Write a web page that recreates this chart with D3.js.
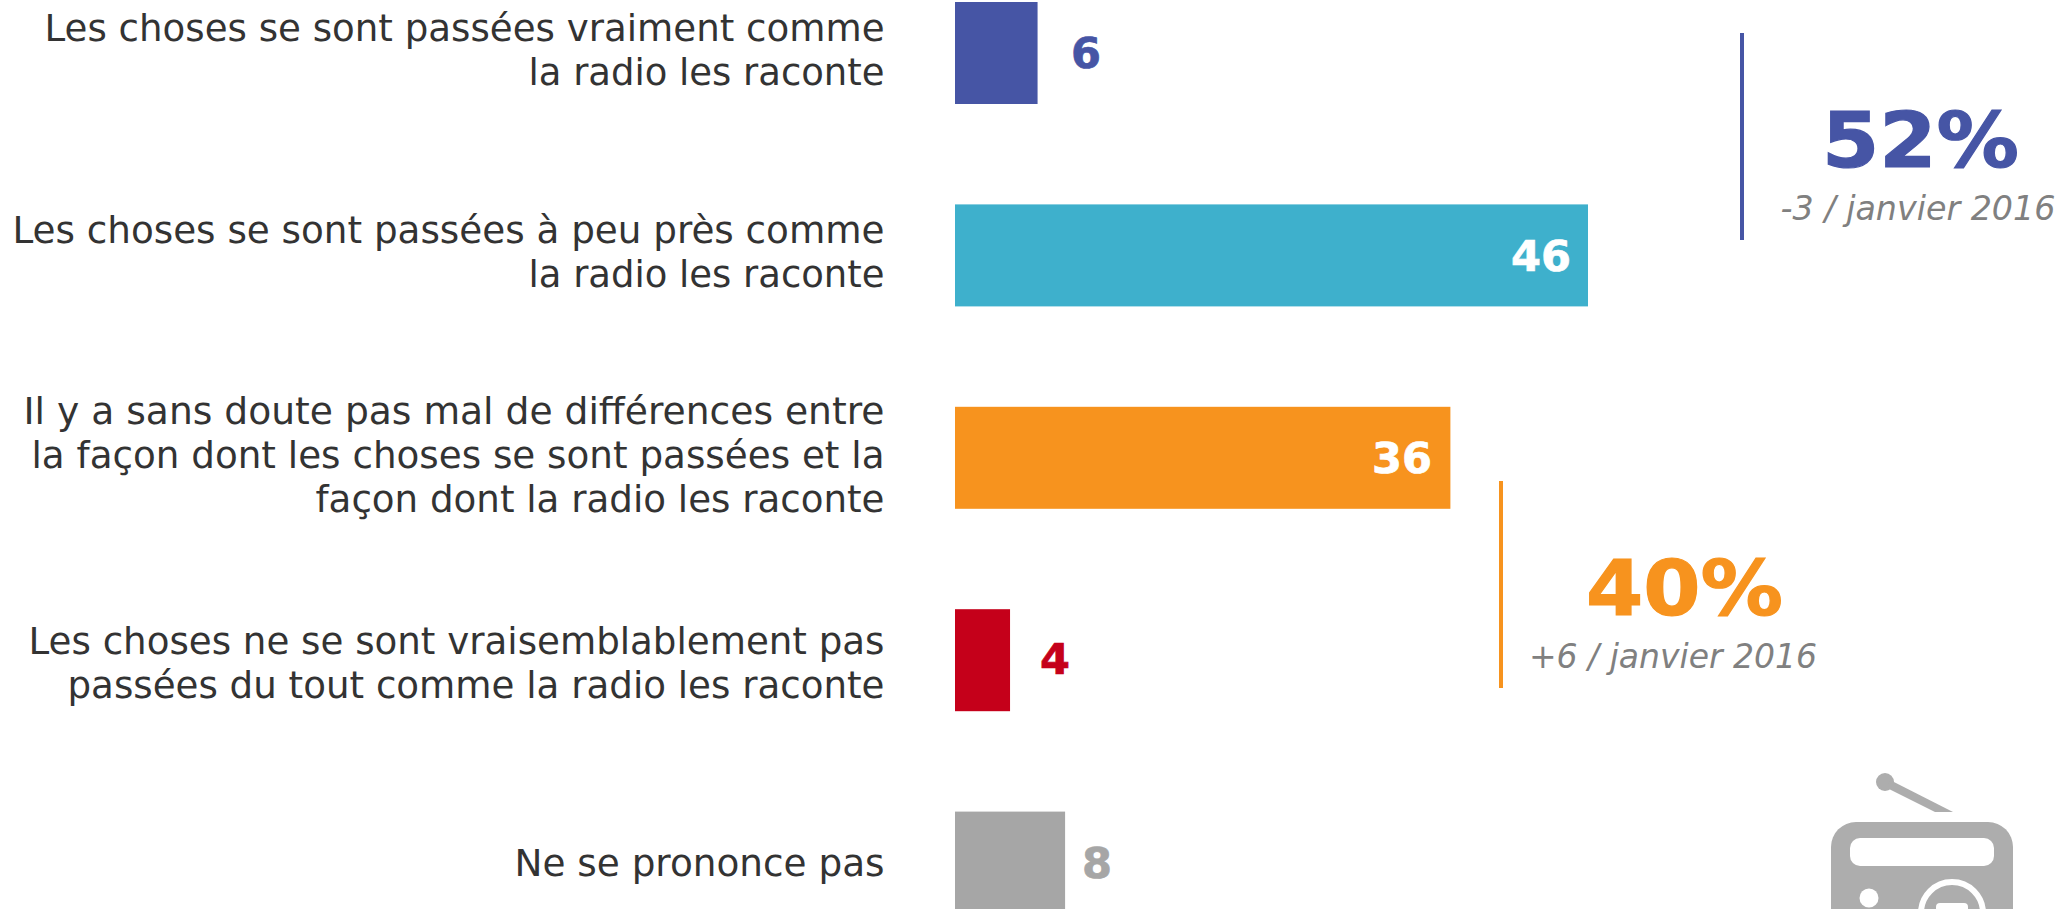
<!DOCTYPE html>
<html><head><meta charset="utf-8">
<script src="https://cdn.jsdelivr.net/npm/d3@7"></script>
<style>html,body{margin:0;padding:0;background:#fff;overflow:hidden}svg{display:block}text{font-family:"DejaVu Sans",sans-serif}</style>
</head><body><svg id="c" width="2068" height="909"></svg>
<script>
const categories = ["A","B","C","D","E"];
const labelLines = [
 ["Les choses se sont passées vraiment comme","la radio les raconte"],
 ["Les choses se sont passées à peu près comme","la radio les raconte"],
 ["Il y a sans doute pas mal de différences entre","la façon dont les choses se sont passées et la","façon dont la radio les raconte"],
 ["Les choses ne se sont vraisemblablement pas","passées du tout comme la radio les raconte"],
 ["Ne se prononce pas"]
];
const values = [6,46,36,4,8];
const barColors = ["#4655a5","#3eb0cc","#f7931e","#c5001a","#a6a6a6"];
const valueColors = ["#4655a5","#ffffff","#ffffff","#c5001a","#a6a6a6"];
const summaryValues = ["52%","40%"];
const summaryNotes = ["-3 / janvier 2016","+6 / janvier 2016"];
const summaryColors = ["#4655a5","#f7931e"];

const svg = d3.select("#c");
const x = d3.scaleLinear().domain([0,46]).range([955,1588]);
const y = d3.scaleBand().domain(categories).range([2,913.6]).paddingInner(100.4/202.4);
const LABEL_X = 884.5, LINE_H = 44;
const labelDy = [10,10,10,16,13];
const labelW = [[840,356],[872,356],[861,853,569],[856,817],[370]];
const valueX = [1071,1571,1432,1040,1082];
const valueDy = [15,16,15,14,15];
const valueW = [30,60,60,30,30];
const valueAnchor = ["start","end","end","start","start"];

categories.forEach((c,i)=>{
  svg.append("rect").attr("x",x(0)).attr("y",y(c)).attr("width",x(values[i])-x(0)).attr("height",y.bandwidth()).attr("fill",barColors[i]);
  const cy = y(c)+y.bandwidth()/2, n = labelLines[i].length;
  labelLines[i].forEach((t,k)=>{
    svg.append("text").attr("x",LABEL_X).attr("y",cy+(k-(n-1)/2)*LINE_H+labelDy[i])
      .attr("text-anchor","end").attr("font-size",37.2).attr("fill","#333333")
      .attr("textLength",labelW[i][k]).attr("lengthAdjust","spacingAndGlyphs").text(t);
  });
  svg.append("text").attr("x",valueX[i]).attr("y",cy+valueDy[i]).attr("text-anchor",valueAnchor[i])
    .attr("font-size",42).attr("font-weight","bold").attr("fill",valueColors[i])
    .attr("stroke",valueColors[i]).attr("stroke-width",0.7)
    .attr("textLength",valueW[i]).attr("lengthAdjust","spacingAndGlyphs").text(values[i]);
});

const sumX=[1742,1501], sumTop=[33,481], sumCX=[1920.5,1684.5], noteCX=[1918,1673], noteSize=[33.3,33];
summaryValues.forEach((v,i)=>{
  svg.append("rect").attr("x",sumX[i]-2).attr("y",sumTop[i]).attr("width",4).attr("height",207).attr("fill",summaryColors[i]);
  svg.append("text").attr("x",sumCX[i]).attr("y",sumTop[i]+134).attr("text-anchor","middle")
    .attr("font-size",76).attr("font-weight","bold").attr("fill",summaryColors[i])
    .attr("stroke",summaryColors[i]).attr("stroke-width",1.2)
    .attr("textLength",197).attr("lengthAdjust","spacingAndGlyphs").text(v);
  svg.append("text").attr("x",noteCX[i]).attr("y",sumTop[i]+187).attr("text-anchor","middle")
    .attr("font-size",noteSize[i]).attr("font-style","italic").attr("fill","#808080").text(summaryNotes[i]);
});

// radio icon
const g = svg.append("g").attr("fill","#adadad");
g.append("circle").attr("cx",1885).attr("cy",782).attr("r",9);
g.append("path").attr("d","M1890,780 L1953,812 L1935,812 L1887,788 Z");
g.append("rect").attr("x",1831).attr("y",822).attr("width",182).attr("height",140).attr("rx",25);
svg.append("rect").attr("x",1850).attr("y",838).attr("width",144).attr("height",28).attr("rx",10).attr("fill","#fff");
g.append("path").attr("d","M1886,866 V853 a4.4,4.4 0 0 1 8.8,0 V866 Z");
svg.append("circle").attr("cx",1869).attr("cy",898).attr("r",9.5).attr("fill","#fff");
svg.append("circle").attr("cx",1952).attr("cy",913).attr("r",31).attr("fill","none").attr("stroke","#fff").attr("stroke-width",6);
svg.append("rect").attr("x",1936).attr("y",903).attr("width",32).attr("height",20).attr("rx",4).attr("fill","#fff");
</script></body></html>
